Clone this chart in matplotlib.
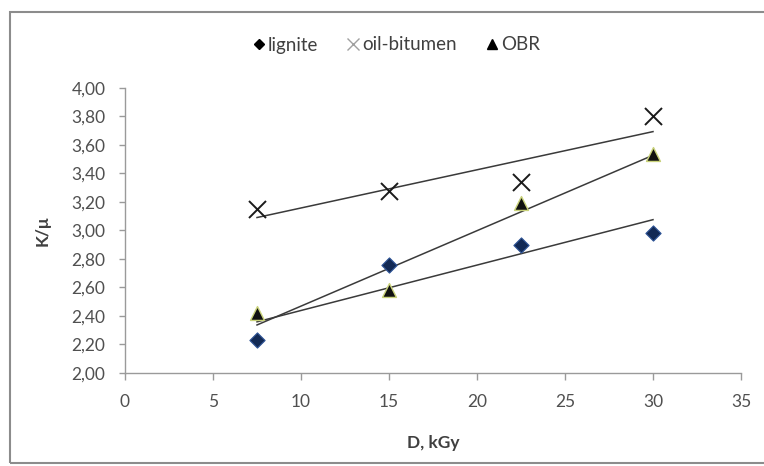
import matplotlib
matplotlib.use("Agg")
import matplotlib.pyplot as plt
import numpy as np
from matplotlib.patches import Rectangle

dose = [7.5, 15, 22.5, 30]
lignite = [2.23, 2.76, 2.90, 2.98]
oil_bitumen = [3.15, 3.28, 3.34, 3.80]
obr = [2.42, 2.58, 3.19, 3.54]
series_names = ["lignite", "oil-bitumen", "OBR"]
x_ticks = [0, 5, 10, 15, 20, 25, 30, 35]
y_ticks = [2.0, 2.2, 2.4, 2.6, 2.8, 3.0, 3.2, 3.4, 3.6, 3.8, 4.0]

plt.rcParams['font.family'] = ['Lato', 'DejaVu Sans']

fig = plt.figure(figsize=(7.64, 4.66), dpi=100)
fig.patches.append(Rectangle((10/764, 1 - 463/466), 1.0, (463 - 12)/466,
                             transform=fig.transFigure, fill=False,
                             edgecolor='#8c8c8c', linewidth=1.5, zorder=0))
ax = fig.add_axes([125/764, 1 - 373/466, (741 - 125)/764, (373 - 88)/466])

x = np.array(dose)
for ys in (lignite, oil_bitumen, obr):
    k, b = np.polyfit(x, ys, 1)
    ax.plot([x[0], x[-1]], [k * x[0] + b, k * x[-1] + b],
            color='#3a3a3a', linewidth=1.1, zorder=2)

ax.scatter(dose, lignite, marker='D', s=60, facecolor='#132a55',
           edgecolor='#2f5597', linewidth=0.8, zorder=3, label=series_names[0])
ax.scatter(dose, oil_bitumen, marker='x', s=150, color='#1a1a1a',
           linewidth=1.4, zorder=3, label=series_names[1])
ax.scatter(dose, obr, marker='^', s=100, facecolor='#111111',
           edgecolor='#c9d27a', linewidth=1.0, zorder=3, label=series_names[2])

ax.set_xlim(0, 35)
ax.set_ylim(2.0, 4.0)
ax.set_xticks(x_ticks)
ax.set_yticks(y_ticks)
ax.set_xticklabels([str(t) for t in x_ticks])
ax.set_yticklabels([f"{t:.2f}".replace('.', ',') for t in y_ticks])
for s in ('top', 'right'):
    ax.spines[s].set_visible(False)
for s in ('left', 'bottom'):
    ax.spines[s].set_color('#9a9a9a')
    ax.spines[s].set_linewidth(1.0)
ax.tick_params(axis='both', colors='#9a9a9a', labelcolor='#505050',
               labelsize=12.5, width=1.0)
ax.tick_params(axis='x', length=5, pad=10)
ax.tick_params(axis='y', length=4, pad=10)

ax.set_xlabel("D, kGy", fontsize=12.5, fontweight='bold', color='#404040')
ax.set_ylabel("K/μ", fontsize=12.5, fontweight='bold', color='#404040')
ax.xaxis.set_label_coords(0.5, (373 - 435) / 285)
ax.yaxis.set_label_coords((51 - 125) / 616, 0.5)

leg_h = [
    plt.Line2D([], [], marker='D', linestyle='none', color='black', markersize=5.5),
    plt.Line2D([], [], marker='x', linestyle='none', color='#a0a0a0', markersize=9, markeredgewidth=1.0),
    plt.Line2D([], [], marker='^', linestyle='none', color='black', markersize=6.5),
]
fig.legend(leg_h, series_names, loc='center', bbox_to_anchor=(396/764, 1 - 45/466),
           ncol=3, frameon=False, fontsize=13.5, handlelength=0.7, handletextpad=0.15,
           columnspacing=1.5, labelcolor='#404040')

fig.savefig("out.png", dpi=100, facecolor='white')
